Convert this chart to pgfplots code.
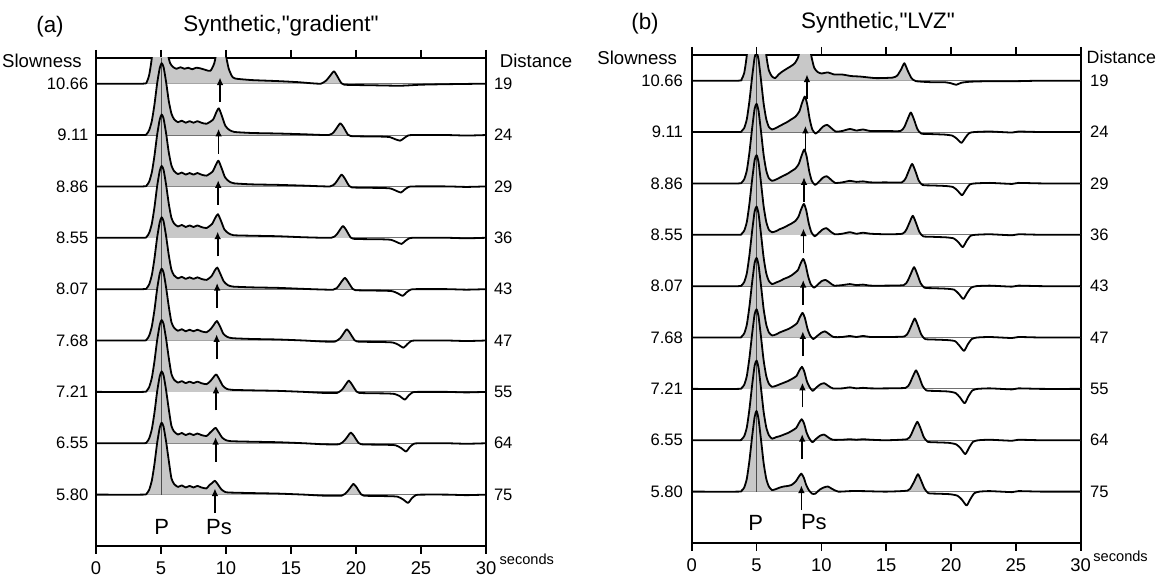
\documentclass[border=0pt]{standalone}
\usepackage{fontspec}
\setmainfont{Liberation Sans}
\usepackage{pgfplots}
\usepackage{pgfplotstable}
\pgfplotsset{compat=1.18}
\usetikzlibrary{arrows.meta}
\definecolor{fillg}{RGB}{200,200,200}
\newcommand\lf{\fontsize{8.3}{9}\selectfont}
\newcommand\hf{\fontsize{9.3}{10}\selectfont}
\newcommand\tf{\fontsize{11.2}{12}\selectfont}
\newcommand\pf{\fontsize{11}{12}\selectfont}

% ---------- panel (a) "gradient" traces: t (s), amplitude (trace spacing units)
\pgfplotstableread[row sep=\\]{t a\\0 0\\3.6 0\\3.9 .03\\4.1 .18\\4.3 .52\\4.5 1.2\\4.7 2.0\\4.9 2.5\\5.1 2.4\\5.3 1.6\\5.5 .65\\5.7 .4\\5.95 .32\\6.2 .29\\6.5 .32\\6.8 .29\\7.1 .31\\7.4 .28\\7.7 .31\\8.0 .3\\8.4 .27\\8.8 .25\\9.1 .4\\9.35 .7\\9.65 .9\\9.95 .6\\10.2 .3\\10.45 .15\\10.7 .1\\12 .07\\14 .05\\15.5 .03\\16.5 .01\\17.3 0\\17.7 .06\\18.0 .15\\18.3 .24\\18.55 .15\\18.8 .04\\19.1 -.02\\21 -.03\\23.4 -.04\\25 -.02\\27 -.01\\30 0\\}\traceAa
\pgfplotstableread[row sep=\\]{t a\\0 0\\3.6 0\\3.9 .02\\4.1 .1\\4.3 .28\\4.5 .6\\4.7 1.0\\4.9 1.3\\5.05 1.4\\5.2 1.32\\5.4 1.02\\5.6 .66\\5.8 .42\\6.0 .31\\6.3 .25\\6.6 .28\\6.9 .24\\7.2 .27\\7.5 .24\\7.8 .27\\8.1 .24\\8.5 .22\\9.0 .30\\9.25 .44\\9.45 .52\\9.7 .36\\9.95 .18\\10.25 .10\\10.65 .06\\12 .04\\14 .03\\16 .015\\17.9 0\\18.3 .06\\18.55 .15\\18.8 .23\\19.05 .15\\19.3 .04\\19.6 -.02\\21.9 -.03\\22.6 -.04\\23.0 -.08\\23.4 -.11\\23.7 -.06\\24.0 -.01\\24.4 0\\27 0\\28.5 -.01\\30 0\\}\traceAb
\pgfplotstableread[row sep=\\]{t a\\0 0\\3.6 0\\3.9 .02\\4.1 .1\\4.3 .28\\4.5 .6\\4.7 1.0\\4.9 1.3\\5.05 1.4\\5.2 1.32\\5.4 1.02\\5.6 .66\\5.8 .41\\6.0 .30\\6.3 .24\\6.6 .27\\6.9 .23\\7.2 .26\\7.5 .23\\7.8 .26\\8.1 .23\\8.5 .21\\8.97 .29\\9.22 .42\\9.42 .50\\9.67 .35\\9.92 .18\\10.22 .10\\10.62 .06\\12 .04\\14 .03\\16 .015\\18.0 0\\18.4 .06\\18.65 .15\\18.9 .23\\19.15 .15\\19.4 .04\\19.7 -.02\\21.95 -.03\\22.65 -.04\\23.05 -.08\\23.45 -.12\\23.75 -.06\\24.05 -.01\\24.45 0\\27 0\\28.5 -.01\\30 0\\}\traceAc
\pgfplotstableread[row sep=\\]{t a\\0 0\\3.6 0\\3.9 .02\\4.1 .1\\4.3 .28\\4.5 .6\\4.7 1.0\\4.9 1.3\\5.05 1.4\\5.2 1.32\\5.4 1.02\\5.6 .66\\5.8 .39\\6.0 .28\\6.3 .22\\6.6 .25\\6.9 .21\\7.2 .24\\7.5 .21\\7.8 .24\\8.1 .21\\8.5 .19\\8.93 .27\\9.18 .39\\9.38 .46\\9.63 .32\\9.88 .16\\10.18 .09\\10.58 .05\\12 .04\\14 .03\\16 .01\\18.1 0\\18.5 .06\\18.75 .15\\19.0 .23\\19.25 .15\\19.5 .04\\19.8 -.02\\22.0 -.03\\22.7 -.04\\23.1 -.08\\23.5 -.12\\23.8 -.06\\24.1 -.01\\24.5 0\\27 0\\28.5 -.01\\30 0\\}\traceAd
\pgfplotstableread[row sep=\\]{t a\\0 0\\3.6 0\\3.9 .02\\4.1 .1\\4.3 .28\\4.5 .6\\4.7 1.0\\4.9 1.3\\5.05 1.4\\5.2 1.32\\5.4 1.02\\5.6 .66\\5.8 .38\\6.0 .27\\6.3 .21\\6.6 .24\\6.9 .20\\7.2 .23\\7.5 .20\\7.8 .23\\8.1 .20\\8.5 .18\\8.88 .25\\9.13 .36\\9.33 .42\\9.58 .29\\9.83 .15\\10.13 .08\\10.53 .05\\12 .035\\14 .025\\16 .005\\18.25 -.01\\18.65 .06\\18.9 .15\\19.15 .22\\19.4 .14\\19.65 .04\\19.95 -.02\\22.1 -.03\\22.8 -.04\\23.2 -.08\\23.6 -.13\\23.9 -.06\\24.2 -.01\\24.6 0\\27 0\\28.5 -.01\\30 0\\}\traceAe
\pgfplotstableread[row sep=\\]{t a\\0 0\\3.6 0\\3.9 .02\\4.1 .1\\4.3 .28\\4.5 .6\\4.7 1.0\\4.9 1.3\\5.05 1.4\\5.2 1.32\\5.4 1.02\\5.6 .66\\5.8 .36\\6.0 .25\\6.3 .19\\6.6 .22\\6.9 .18\\7.2 .21\\7.5 .18\\7.8 .21\\8.1 .18\\8.5 .16\\8.85 .23\\9.1 .32\\9.3 .38\\9.55 .27\\9.8 .13\\10.1 .07\\10.5 .045\\12 .03\\14 .02\\16 0\\17.5 -.02\\18.4 -.02\\18.8 .05\\19.05 .14\\19.3 .22\\19.55 .14\\19.8 .04\\20.1 -.02\\22.15 -.03\\22.85 -.04\\23.25 -.08\\23.65 -.14\\23.95 -.07\\24.25 -.01\\24.65 0\\27 0\\28.5 -.01\\30 0\\}\traceAf
\pgfplotstableread[row sep=\\]{t a\\0 0\\3.6 0\\3.9 .02\\4.1 .1\\4.3 .28\\4.5 .6\\4.7 1.0\\4.9 1.3\\5.05 1.4\\5.2 1.32\\5.4 1.02\\5.6 .66\\5.8 .35\\6.0 .24\\6.3 .18\\6.6 .21\\6.9 .17\\7.2 .20\\7.5 .17\\7.8 .20\\8.1 .17\\8.5 .15\\8.8 .21\\9.05 .29\\9.25 .34\\9.5 .24\\9.75 .12\\10.05 .06\\10.45 .04\\12 .03\\14 .02\\16 0\\17.5 -.02\\18.55 -.02\\18.95 .05\\19.2 .14\\19.45 .22\\19.7 .14\\19.95 .04\\20.25 -.02\\22.25 -.03\\22.95 -.04\\23.35 -.08\\23.75 -.15\\24.05 -.07\\24.35 -.01\\24.75 0\\27 0\\28.5 -.01\\30 0\\}\traceAg
\pgfplotstableread[row sep=\\]{t a\\0 0\\3.6 0\\3.9 .02\\4.1 .1\\4.3 .28\\4.5 .6\\4.7 1.0\\4.9 1.3\\5.05 1.4\\5.2 1.32\\5.4 1.02\\5.6 .66\\5.8 .34\\6.0 .23\\6.3 .17\\6.6 .20\\6.9 .16\\7.2 .19\\7.5 .16\\7.8 .19\\8.1 .16\\8.5 .14\\8.75 .20\\9.0 .26\\9.2 .30\\9.45 .21\\9.7 .11\\10.0 .06\\10.4 .04\\12 .03\\14 .02\\16 0\\17.5 -.02\\18.7 -.02\\19.1 .05\\19.35 .13\\19.6 .21\\19.85 .14\\20.1 .04\\20.4 -.02\\22.35 -.03\\23.05 -.04\\23.45 -.09\\23.85 -.16\\24.15 -.07\\24.45 -.01\\24.85 0\\27 0\\28.5 -.01\\30 0\\}\traceAh
\pgfplotstableread[row sep=\\]{t a\\0 0\\3.6 0\\3.9 .02\\4.1 .1\\4.3 .28\\4.5 .6\\4.7 1.0\\4.9 1.3\\5.05 1.4\\5.2 1.32\\5.4 1.02\\5.6 .66\\5.8 .32\\6.0 .21\\6.3 .15\\6.6 .18\\6.9 .14\\7.2 .17\\7.5 .14\\7.8 .17\\8.1 .14\\8.5 .12\\8.7 .18\\8.95 .23\\9.15 .27\\9.4 .19\\9.65 .10\\9.95 .05\\10.35 .04\\12 .03\\14 .02\\16 0\\17.5 -.02\\18.9 -.02\\19.3 .05\\19.55 .13\\19.8 .21\\20.05 .14\\20.3 .04\\20.6 -.02\\22.5 -.03\\23.2 -.04\\23.6 -.09\\24.0 -.16\\24.3 -.07\\24.6 -.01\\25.0 0\\27 0\\28.5 -.01\\30 0\\}\traceAi

% ---------- panel (b) "LVZ" traces
\pgfplotstableread[row sep=\\]{t a\\0 0\\3.6 0\\3.85 .03\\4.05 .15\\4.25 .5\\4.45 1.2\\4.65 2.0\\4.85 2.6\\5.0 2.8\\5.15 2.6\\5.35 1.9\\5.55 1.1\\5.75 .5\\5.95 .2\\6.2 .08\\6.45 .05\\6.7 .12\\7.0 .18\\7.25 .22\\7.7 .29\\7.95 .34\\8.2 .45\\8.4 .65\\8.75 .95\\9.05 .72\\9.25 .45\\9.45 .25\\9.7 .17\\10.0 .14\\10.5 .16\\11.0 .12\\11.6 .12\\12.3 .09\\13 .08\\14.2 .05\\15.5 .06\\15.85 .1\\16.15 .22\\16.4 .34\\16.65 .2\\16.95 .05\\17.3 -.01\\18.5 -.03\\19.5 -.03\\20.0 -.05\\20.4 -.08\\20.8 -.04\\21.5 -.02\\23 -.01\\25 -.01\\27 0\\30 0\\}\traceBa
\pgfplotstableread[row sep=\\]{t a\\0 0\\3.6 0\\3.85 .02\\4.05 .08\\4.25 .25\\4.45 .6\\4.65 1.05\\4.85 1.45\\5.0 1.55\\5.15 1.42\\5.35 1.0\\5.55 .55\\5.75 .25\\5.95 .1\\6.2 .05\\6.5 .08\\6.8 .12\\7.1 .16\\7.4 .2\\7.7 .25\\8.0 .3\\8.3 .40\\8.5 .56\\8.72 .69\\8.9 .55\\9.1 .25\\9.3 .05\\9.55 -.03\\9.8 .02\\10.15 .11\\10.45 .14\\10.75 .08\\11.1 .01\\11.6 .02\\12.2 .06\\12.7 .03\\13.2 .05\\13.8 .02\\15 .02\\16.1 .02\\16.4 .1\\16.65 .25\\16.9 .38\\17.15 .24\\17.4 .06\\17.7 -.03\\18.5 -.04\\19.5 -.05\\20.1 -.07\\20.45 -.13\\20.8 -.21\\21.1 -.11\\21.4 -.02\\21.8 0\\23 .01\\24.7 -.01\\25.2 .01\\27 0\\30 0\\}\traceBb
\pgfplotstableread[row sep=\\]{t a\\0 0\\3.6 0\\3.85 .02\\4.05 .08\\4.25 .25\\4.45 .6\\4.65 1.05\\4.85 1.45\\5.0 1.55\\5.15 1.42\\5.35 1.0\\5.55 .55\\5.75 .25\\5.95 .1\\6.2 .05\\6.5 .076\\6.8 .114\\7.1 .152\\7.4 .19\\7.7 .24\\8.0 .29\\8.26 .38\\8.46 .53\\8.68 .66\\8.86 .53\\9.06 .24\\9.26 .05\\9.51 -.03\\9.76 .02\\10.11 .11\\10.41 .14\\10.71 .08\\11.06 .01\\11.6 .02\\12.2 .05\\12.7 .03\\13.2 .04\\13.8 .02\\15 .02\\16.2 .02\\16.5 .1\\16.75 .25\\17.0 .38\\17.25 .24\\17.5 .06\\17.8 -.03\\18.55 -.04\\19.55 -.05\\20.15 -.07\\20.5 -.14\\20.85 -.23\\21.15 -.12\\21.45 -.02\\21.85 0\\23 .01\\24.7 -.01\\25.2 .01\\27 0\\30 0\\}\traceBc
\pgfplotstableread[row sep=\\]{t a\\0 0\\3.6 0\\3.85 .02\\4.05 .08\\4.25 .25\\4.45 .6\\4.65 1.05\\4.85 1.45\\5.0 1.55\\5.15 1.42\\5.35 1.0\\5.55 .55\\5.75 .25\\5.95 .1\\6.2 .05\\6.5 .07\\6.8 .11\\7.1 .14\\7.4 .18\\7.7 .22\\8.0 .27\\8.23 .35\\8.43 .49\\8.65 .60\\8.83 .48\\9.03 .22\\9.23 .05\\9.48 -.03\\9.73 .02\\10.08 .1\\10.38 .13\\10.68 .07\\11.03 .01\\11.6 .02\\12.2 .05\\12.7 .02\\13.2 .04\\13.8 .02\\15 .01\\16.25 .02\\16.55 .1\\16.8 .24\\17.05 .37\\17.3 .23\\17.55 .06\\17.85 -.03\\18.6 -.04\\19.6 -.05\\20.2 -.07\\20.55 -.14\\20.9 -.24\\21.2 -.12\\21.5 -.02\\21.9 0\\23 .01\\24.7 -.01\\25.2 .01\\27 0\\30 0\\}\traceBd
\pgfplotstableread[row sep=\\]{t a\\0 0\\3.6 0\\3.85 .02\\4.05 .08\\4.25 .25\\4.45 .6\\4.65 1.05\\4.85 1.45\\5.0 1.55\\5.15 1.42\\5.35 1.0\\5.55 .55\\5.75 .25\\5.95 .1\\6.2 .04\\6.5 .07\\6.8 .10\\7.1 .14\\7.4 .17\\7.7 .21\\8.18 .31\\8.38 .43\\8.6 .53\\8.78 .42\\8.98 .19\\9.18 .04\\9.43 -.03\\9.68 .02\\10.03 .1\\10.33 .12\\10.63 .07\\10.98 .01\\11.6 .02\\12.2 .04\\12.7 .02\\13.2 .03\\13.8 .01\\15 .01\\16.35 .02\\16.65 .1\\16.9 .24\\17.15 .37\\17.4 .23\\17.65 .06\\17.95 -.03\\18.65 -.04\\19.65 -.05\\20.25 -.07\\20.6 -.15\\20.95 -.25\\21.25 -.13\\21.55 -.03\\21.95 0\\23 .01\\24.7 -.01\\25.2 .01\\27 0\\30 0\\}\traceBe
\pgfplotstableread[row sep=\\]{t a\\0 0\\3.6 0\\3.85 .02\\4.05 .08\\4.25 .25\\4.45 .6\\4.65 1.05\\4.85 1.45\\5.0 1.55\\5.15 1.42\\5.35 1.0\\5.55 .55\\5.75 .25\\5.95 .1\\6.2 .04\\6.5 .06\\6.8 .10\\7.1 .13\\7.4 .16\\7.7 .2\\8.13 .28\\8.33 .39\\8.55 .48\\8.73 .38\\8.93 .17\\9.13 .04\\9.38 -.03\\9.63 .02\\9.98 .09\\10.28 .12\\10.58 .07\\10.93 .01\\11.6 .01\\12.2 .03\\12.7 .01\\13.2 .03\\13.8 .01\\15 .01\\16.4 .02\\16.7 .1\\16.95 .24\\17.2 .37\\17.45 .23\\17.7 .06\\18.0 -.03\\18.7 -.04\\19.7 -.05\\20.3 -.07\\20.65 -.16\\21.0 -.26\\21.3 -.13\\21.6 -.03\\22.0 0\\23 .01\\24.7 -.01\\25.2 .01\\27 0\\30 0\\}\traceBf
\pgfplotstableread[row sep=\\]{t a\\0 0\\3.6 0\\3.85 .02\\4.05 .08\\4.25 .25\\4.45 .6\\4.65 1.05\\4.85 1.45\\5.0 1.55\\5.15 1.42\\5.35 1.0\\5.55 .55\\5.75 .25\\5.95 .1\\6.2 .04\\6.5 .06\\6.8 .09\\7.1 .12\\7.4 .15\\7.7 .19\\8.08 .25\\8.28 .35\\8.5 .43\\8.68 .34\\8.88 .15\\9.08 .04\\9.33 -.04\\9.58 .02\\9.93 .09\\10.23 .11\\10.53 .06\\10.88 .01\\11.6 .01\\12.2 .03\\12.7 .01\\13.2 .02\\13.8 .01\\15 .01\\16.5 .02\\16.8 .1\\17.05 .24\\17.3 .36\\17.55 .23\\17.8 .06\\18.1 -.03\\18.75 -.04\\19.75 -.05\\20.35 -.08\\20.7 -.17\\21.05 -.28\\21.35 -.14\\21.65 -.03\\22.05 0\\23 .01\\24.7 -.01\\25.2 .01\\27 0\\30 0\\}\traceBg
\pgfplotstableread[row sep=\\]{t a\\0 0\\3.6 0\\3.85 .02\\4.05 .08\\4.25 .25\\4.45 .6\\4.65 1.05\\4.85 1.45\\5.0 1.55\\5.15 1.42\\5.35 1.0\\5.55 .55\\5.75 .25\\5.95 .1\\6.2 .03\\6.5 .06\\6.8 .08\\7.1 .11\\7.4 .14\\7.7 .18\\8.06 .24\\8.26 .33\\8.48 .41\\8.66 .33\\8.86 .15\\9.06 .04\\9.31 -.04\\9.56 .02\\9.91 .09\\10.21 .11\\10.51 .06\\10.86 .01\\11.6 .01\\12.2 .02\\12.7 .01\\13.2 .02\\13.8 .01\\15 0\\16.6 .02\\16.9 .1\\17.15 .24\\17.4 .36\\17.65 .23\\17.9 .06\\18.2 -.03\\18.8 -.04\\19.8 -.05\\20.4 -.08\\20.75 -.16\\21.1 -.27\\21.4 -.14\\21.7 -.03\\22.1 0\\23 .01\\24.7 -.01\\25.2 .01\\27 0\\30 0\\}\traceBh
\pgfplotstableread[row sep=\\]{t a\\0 0\\3.6 0\\3.85 .02\\4.05 .08\\4.25 .25\\4.45 .6\\4.65 1.05\\4.85 1.45\\5.0 1.57\\5.15 1.42\\5.35 1.0\\5.55 .55\\5.75 .25\\5.95 .1\\6.2 .03\\6.5 .05\\6.8 .08\\7.1 .10\\7.4 .11\\7.7 .13\\8.03 .2\\8.23 .28\\8.45 .35\\8.63 .28\\8.83 .13\\9.03 .03\\9.28 -.04\\9.53 -.04\\9.88 .04\\10.18 .08\\10.5 .1\\10.85 .05\\11.3 0\\12.2 .01\\13.2 .01\\15 0\\16.65 .02\\16.95 .1\\17.2 .22\\17.45 .34\\17.7 .21\\17.95 .06\\18.25 -.03\\18.9 -.04\\19.9 -.05\\20.5 -.08\\20.85 -.16\\21.2 -.27\\21.5 -.14\\21.8 -.03\\22.2 0\\23 .01\\24.7 -.01\\25.2 .01\\27 0\\30 0\\}\traceBi

\pgfplotsset{
  rfaxis/.style={scale only axis, width=195pt, height=244pt,
    xmin=0, xmax=30, ymin=-1, ymax=8.5,
    xtick={0,5,10,15,20,25,30}, ytick=\empty,
    xtick pos=both, xticklabel pos=lower, tick align=outside,
    major tick length=4pt,
    every tick/.style={black, line width=0.8pt},
    axis line style={line width=0.8pt},
    xticklabel style={font=\fontsize{9.2}{10}\selectfont, inner sep=0pt, anchor=north, yshift=-3.6pt},
    /pgf/number format/assume math mode=true, clip mode=individual},
  rffill/.style={draw=none, fill=fillg, smooth, tension=0.35, forget plot},
  rfline/.style={black, line width=0.9pt, smooth, tension=0.35, line join=round, forget plot},
  rfbase/.style={black!60, line width=0.4pt, forget plot},
}
\newcommand\rfarrow[2]{\draw[line width=0.9pt, -{Latex[length=3.8pt,width=3.4pt]}] (axis cs:#1,#2-0.36) -- (axis cs:#1,#2+0.12);}
\newcommand\slab[3]{\node[font=\lf, anchor=east, inner sep=0pt] at (axis cs:0,#1) [xshift=#3] {#2};}
\newcommand\dlab[3]{\node[font=\lf, anchor=west, inner sep=0pt] at (axis cs:30,#1) [xshift=#3] {#2};}

\begin{document}
\begin{tikzpicture}
% ================= panel (a)
\begin{axis}[rfaxis, at={(48pt,15pt)}, anchor=south west]
\addplot[rfbase] coordinates {(0,8) (30,8)};
\addplot[rfbase] coordinates {(0,7) (30,7)};
\addplot[rfbase] coordinates {(0,6) (30,6)};
\addplot[rfbase] coordinates {(0,5) (30,5)};
\addplot[rfbase] coordinates {(0,4) (30,4)};
\addplot[rfbase] coordinates {(0,3) (30,3)};
\addplot[rfbase] coordinates {(0,2) (30,2)};
\addplot[rfbase] coordinates {(0,1) (30,1)};
\addplot[rfbase] coordinates {(0,0) (30,0)};
\addplot[rffill] table[x=t, y expr={max(\thisrow{a},0)+8}] {\traceAa} -- cycle;
\addplot[rffill] table[x=t, y expr={max(\thisrow{a},0)+7}] {\traceAb} -- cycle;
\addplot[rffill] table[x=t, y expr={max(\thisrow{a},0)+6}] {\traceAc} -- cycle;
\addplot[rffill] table[x=t, y expr={max(\thisrow{a},0)+5}] {\traceAd} -- cycle;
\addplot[rffill] table[x=t, y expr={max(\thisrow{a},0)+4}] {\traceAe} -- cycle;
\addplot[rffill] table[x=t, y expr={max(\thisrow{a},0)+3}] {\traceAf} -- cycle;
\addplot[rffill] table[x=t, y expr={max(\thisrow{a},0)+2}] {\traceAg} -- cycle;
\addplot[rffill] table[x=t, y expr={max(\thisrow{a},0)+1}] {\traceAh} -- cycle;
\addplot[rffill] table[x=t, y expr={max(\thisrow{a},0)+0}] {\traceAi} -- cycle;
\addplot[black!70, line width=0.45pt, forget plot] coordinates {(5.05,0) (5.05,8.5)};
\addplot[rfline] table[x=t, y expr={\thisrow{a}+8}] {\traceAa};
\addplot[rfline] table[x=t, y expr={\thisrow{a}+7}] {\traceAb};
\addplot[rfline] table[x=t, y expr={\thisrow{a}+6}] {\traceAc};
\addplot[rfline] table[x=t, y expr={\thisrow{a}+5}] {\traceAd};
\addplot[rfline] table[x=t, y expr={\thisrow{a}+4}] {\traceAe};
\addplot[rfline] table[x=t, y expr={\thisrow{a}+3}] {\traceAf};
\addplot[rfline] table[x=t, y expr={\thisrow{a}+2}] {\traceAg};
\addplot[rfline] table[x=t, y expr={\thisrow{a}+1}] {\traceAh};
\addplot[rfline] table[x=t, y expr={\thisrow{a}+0}] {\traceAi};
\rfarrow{9.54}{8}\rfarrow{9.43}{7}\rfarrow{9.40}{6}\rfarrow{9.36}{5}\rfarrow{9.32}{4}
\rfarrow{9.28}{3}\rfarrow{9.23}{2}\rfarrow{9.20}{1}\rfarrow{9.15}{0}
\node[font=\pf] at (axis cs:5.05,-0.63) {P};
\node[font=\pf] at (axis cs:9.46,-0.63) {Ps};
\node[font=\hf, anchor=east] at (rel axis cs:0,0.995) [xshift=-3.6pt] {Slowness};
\node[font=\hf, anchor=west] at (rel axis cs:1,0.995) [xshift=3.4pt] {Distance};
\slab{8}{10.66}{-3.6pt}\slab{7}{9.11}{-3.6pt}\slab{6}{8.86}{-3.6pt}\slab{5}{8.55}{-3.6pt}\slab{4}{8.07}{-3.6pt}
\slab{3}{7.68}{-3.6pt}\slab{2}{7.21}{-3.6pt}\slab{1}{6.55}{-3.6pt}\slab{0}{5.80}{-3.6pt}
\dlab{8}{19}{3.8pt}\dlab{7}{24}{3.8pt}\dlab{6}{29}{3.8pt}\dlab{5}{36}{3.8pt}\dlab{4}{43}{3.8pt}
\dlab{3}{47}{3.8pt}\dlab{2}{55}{3.8pt}\dlab{1}{64}{3.8pt}\dlab{0}{75}{3.8pt}
\end{axis}
% ================= panel (b)
\begin{axis}[rfaxis, width=194.5pt, at={(345.85pt,16.5pt)}, anchor=south west]
\addplot[rfbase] coordinates {(0,8) (30,8)};
\addplot[rfbase] coordinates {(0,7) (30,7)};
\addplot[rfbase] coordinates {(0,6) (30,6)};
\addplot[rfbase] coordinates {(0,5) (30,5)};
\addplot[rfbase] coordinates {(0,4) (30,4)};
\addplot[rfbase] coordinates {(0,3) (30,3)};
\addplot[rfbase] coordinates {(0,2) (30,2)};
\addplot[rfbase] coordinates {(0,1) (30,1)};
\addplot[rfbase] coordinates {(0,0) (30,0)};
\addplot[rffill] table[x=t, y expr={max(\thisrow{a},0)+8}] {\traceBa} -- cycle;
\addplot[rffill] table[x=t, y expr={max(\thisrow{a},0)+7}] {\traceBb} -- cycle;
\addplot[rffill] table[x=t, y expr={max(\thisrow{a},0)+6}] {\traceBc} -- cycle;
\addplot[rffill] table[x=t, y expr={max(\thisrow{a},0)+5}] {\traceBd} -- cycle;
\addplot[rffill] table[x=t, y expr={max(\thisrow{a},0)+4}] {\traceBe} -- cycle;
\addplot[rffill] table[x=t, y expr={max(\thisrow{a},0)+3}] {\traceBf} -- cycle;
\addplot[rffill] table[x=t, y expr={max(\thisrow{a},0)+2}] {\traceBg} -- cycle;
\addplot[rffill] table[x=t, y expr={max(\thisrow{a},0)+1}] {\traceBh} -- cycle;
\addplot[rffill] table[x=t, y expr={max(\thisrow{a},0)+0}] {\traceBi} -- cycle;
\addplot[black!70, line width=0.45pt, forget plot] coordinates {(4.97,0) (4.97,8.5)};
\addplot[rfline] table[x=t, y expr={\thisrow{a}+8}] {\traceBa};
\addplot[rfline] table[x=t, y expr={\thisrow{a}+7}] {\traceBb};
\addplot[rfline] table[x=t, y expr={\thisrow{a}+6}] {\traceBc};
\addplot[rfline] table[x=t, y expr={\thisrow{a}+5}] {\traceBd};
\addplot[rfline] table[x=t, y expr={\thisrow{a}+4}] {\traceBe};
\addplot[rfline] table[x=t, y expr={\thisrow{a}+3}] {\traceBf};
\addplot[rfline] table[x=t, y expr={\thisrow{a}+2}] {\traceBg};
\addplot[rfline] table[x=t, y expr={\thisrow{a}+1}] {\traceBh};
\addplot[rfline] table[x=t, y expr={\thisrow{a}+0}] {\traceBi};
\rfarrow{8.89}{8}\rfarrow{8.77}{7}\rfarrow{8.66}{6}\rfarrow{8.62}{5}\rfarrow{8.60}{4}
\rfarrow{8.57}{3}\rfarrow{8.54}{2}\rfarrow{8.52}{1}\rfarrow{8.46}{0}
\node[font=\pf] at (axis cs:4.93,-0.6) {P};
\node[font=\pf] at (axis cs:9.42,-0.6) {Ps};
\node[font=\hf, anchor=east] at (rel axis cs:0,0.995) [xshift=-3.8pt] {Slowness};
\node[font=\fontsize{8.9}{10}\selectfont, anchor=west, inner sep=0pt] at (rel axis cs:1,0.995) [xshift=2.8pt] {Distance};
\slab{8}{10.66}{-4.2pt}\slab{7}{9.11}{-4.2pt}\slab{6}{8.86}{-4.2pt}\slab{5}{8.55}{-4.2pt}\slab{4}{8.07}{-4.2pt}
\slab{3}{7.68}{-4.2pt}\slab{2}{7.21}{-4.2pt}\slab{1}{6.55}{-4.2pt}\slab{0}{5.80}{-4.2pt}
\dlab{8}{19}{4.5pt}\dlab{7}{24}{4.5pt}\dlab{6}{29}{4.5pt}\dlab{5}{36}{4.5pt}\dlab{4}{43}{4.5pt}
\dlab{3}{47}{4.5pt}\dlab{2}{55}{4.5pt}\dlab{1}{64}{4.5pt}\dlab{0}{75}{4.5pt}
\end{axis}
% ================= titles and unit labels
\node[font=\tf] at (25pt,274.5pt) {(a)};
\node[font=\tf] at (140.5pt,275pt) {Synthetic,\textquotedbl gradient\textquotedbl};
\node[font=\tf] at (322.5pt,276pt) {(b)};
\node[font=\tf] at (439pt,276.5pt) {Synthetic,\textquotedbl LVZ\textquotedbl};
\node[font=\fontsize{7.3}{8}\selectfont, anchor=west, inner sep=0pt] at (249.6pt,8.5pt) {seconds};
\node[font=\fontsize{7.3}{8}\selectfont, anchor=west, inner sep=0pt] at (546.5pt,10pt) {seconds};
\pgfresetboundingbox
\useasboundingbox (0,0) rectangle (580pt,288pt);
\end{tikzpicture}
\end{document}
